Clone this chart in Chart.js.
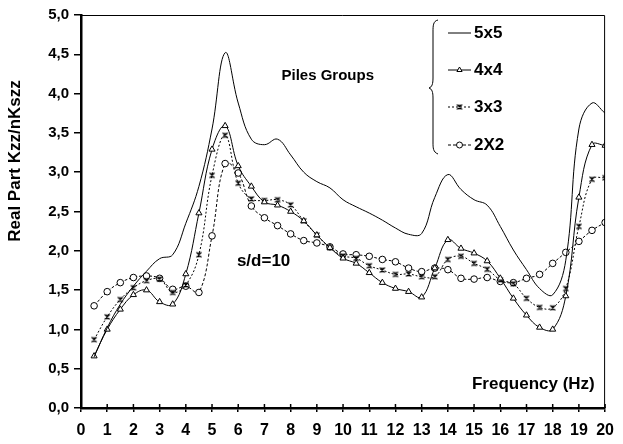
<!DOCTYPE html>
<html>
<head>
<meta charset="utf-8">
<script src="https://cdn.jsdelivr.net/npm/chart.js@4.4.1/dist/chart.umd.min.js"></script>
<style>
html, body { margin: 0; padding: 0; background: #fff; }
#wrap { width: 623px; height: 444px; position: relative; }
</style>
</head>
<body>
<div id="wrap"><canvas id="chart"></canvas></div>
<script>
const FONT = "'Liberation Sans', Arial, sans-serif";

// frequency in Hz
const freq = [0.5, 1, 1.5, 2, 2.5, 3, 3.5, 4, 4.5, 5, 5.5, 6, 6.5, 7, 7.5, 8, 8.5, 9, 9.5, 10,
              10.5, 11, 11.5, 12, 12.5, 13, 13.5, 14, 14.5, 15, 15.5, 16, 16.5, 17, 17.5, 18, 18.5, 19, 19.5, 20];

const group5x5 = [0.65, 1.02, 1.32, 1.55, 1.74, 1.90, 1.95, 2.35, 2.82, 3.55, 4.52, 3.88, 3.42, 3.35, 3.42, 3.22, 3.00, 2.88, 2.80, 2.65,
                  2.56, 2.48, 2.39, 2.29, 2.21, 2.22, 2.68, 2.97, 2.78, 2.65, 2.58, 2.31, 2.01, 1.76, 1.52, 1.44, 1.88, 3.55, 3.88, 3.75];
const group4x4 = [0.66, 1.00, 1.255, 1.44, 1.50, 1.35, 1.32, 1.705, 2.48, 3.29, 3.59, 3.08, 2.82, 2.62, 2.58, 2.50, 2.38, 2.20, 2.04, 1.905,
                  1.84, 1.72, 1.595, 1.52, 1.48, 1.41, 1.78, 2.14, 2.03, 1.97, 1.87, 1.65, 1.395, 1.18, 1.025, 1.00, 1.425, 2.68, 3.35, 3.34];
const group3x3 = [0.87, 1.16, 1.38, 1.53, 1.62, 1.64, 1.47, 1.565, 1.95, 2.96, 3.47, 2.86, 2.66, 2.64, 2.65, 2.585, 2.38, 2.20, 2.04, 1.935,
                  1.905, 1.81, 1.755, 1.70, 1.705, 1.67, 1.67, 1.89, 1.93, 1.84, 1.765, 1.63, 1.58, 1.395, 1.28, 1.275, 1.52, 2.31, 2.91, 2.93];
const group2x2 = [1.30, 1.48, 1.595, 1.66, 1.68, 1.65, 1.51, 1.55, 1.47, 2.19, 3.11, 2.99, 2.57, 2.42, 2.32, 2.215, 2.13, 2.10, 2.05, 1.96,
                  1.95, 1.93, 1.89, 1.86, 1.78, 1.735, 1.78, 1.76, 1.65, 1.64, 1.66, 1.61, 1.595, 1.65, 1.70, 1.84, 1.98, 2.12, 2.26, 2.36];

const seriesLabels = ["5x5", "4x4", "3x3", "2X2"];

// asterisk-like marker used for the 3x3 group
function starMarker() {
    const c = document.createElement("canvas");
    c.width = 8; c.height = 8;
    const g = c.getContext("2d");
    g.strokeStyle = "#000";
    g.lineWidth = 1.2;
    g.beginPath();
    g.moveTo(1.5, 1.5); g.lineTo(6.5, 6.5);
    g.moveTo(6.5, 1.5); g.lineTo(1.5, 6.5);
    g.moveTo(4, 1.5); g.lineTo(4, 6.5);
    g.stroke();
    return c;
}

function toPoints(values) {
    return freq.map((f, i) => ({ x: f, y: values[i] }));
}

const frame = {
    id: "frame",
    afterDatasetsDraw(chart) {
        const { ctx, chartArea: a, scales } = chart;
        ctx.save();
        ctx.strokeStyle = "#000";
        ctx.lineWidth = 1;
        ctx.beginPath();
        ctx.moveTo(a.left, a.top + 0.5);
        ctx.lineTo(a.right - 0.5, a.top + 0.5);
        ctx.lineTo(a.right - 0.5, a.bottom);
        ctx.stroke();

        // x tick marks cross the axis
        ctx.lineWidth = 1.5;
        scales.x.ticks.forEach(t => {
            const px = scales.x.getPixelForValue(t.value);
            ctx.beginPath();
            ctx.moveTo(px, a.bottom - 4);
            ctx.lineTo(px, a.bottom);
            ctx.stroke();
        });

        // texts
        ctx.fillStyle = "#000";
        ctx.textBaseline = "middle";
        ctx.textAlign = "left";
        ctx.font = "bold 15px " + FONT;
        ctx.fillText("Piles Groups", scales.x.getPixelForValue(7.65), scales.y.getPixelForValue(4.22));
        ctx.font = "bold 17px " + FONT;
        ctx.fillText("s/d=10", scales.x.getPixelForValue(5.95), scales.y.getPixelForValue(1.86));
        ctx.fillText("Frequency (Hz)", scales.x.getPixelForValue(14.92), scales.y.getPixelForValue(0.30));

        // y axis title
        ctx.save();
        ctx.translate(15, 161);
        ctx.rotate(-Math.PI / 2);
        ctx.textAlign = "center";
        ctx.font = "bold 17px " + FONT;
        ctx.fillText("Real Part Kzz/nKszz", 0, 0);
        ctx.restore();

        // legend with brace
        ctx.lineWidth = 1;
        ctx.beginPath();
        ctx.moveTo(438, 20);
        ctx.bezierCurveTo(433, 21, 433, 26, 433, 32);
        ctx.lineTo(433, 78);
        ctx.bezierCurveTo(433, 84, 432, 87, 429, 88);
        ctx.bezierCurveTo(432, 89, 433, 92, 433, 98);
        ctx.lineTo(433, 142);
        ctx.bezierCurveTo(433, 148, 433, 152, 438, 154);
        ctx.stroke();

        const rows = [33, 70, 107, 145];
        chart.data.datasets.forEach((ds, i) => {
            const y = rows[i];
            ctx.save();
            ctx.strokeStyle = "#000";
            ctx.lineWidth = ds.borderWidth;
            ctx.setLineDash(ds.borderDash || []);
            ctx.beginPath();
            ctx.moveTo(448, y);
            ctx.lineTo(471, y);
            ctx.stroke();
            ctx.setLineDash([]);
            if (ds.pointRadius > 0) {
                ctx.fillStyle = "#fff";
                ctx.lineWidth = 1;
                Chart.helpers.drawPoint(ctx, { pointStyle: ds.pointStyle, radius: 3, rotation: 0, borderWidth: 1 }, 459.5, y);
            }
            ctx.restore();
            ctx.fillStyle = "#000";
            ctx.font = "bold 17px " + FONT;
            ctx.fillText(ds.label, 474, y);
        });
        ctx.restore();
    }
};

function initializeChart() {
    const ctx = document.getElementById("chart").getContext("2d");
    new Chart(ctx, {
        type: "line",
        data: {
            datasets: [
                {
                    label: seriesLabels[0],
                    data: toPoints(group5x5),
                    borderColor: "#000",
                    borderWidth: 1,
                    pointRadius: 0,
                    tension: 0.4
                },
                {
                    label: seriesLabels[1],
                    data: toPoints(group4x4),
                    borderColor: "#000",
                    borderWidth: 1,
                    pointStyle: "triangle",
                    pointRadius: 3.5,
                    pointBackgroundColor: "#fff",
                    pointBorderColor: "#000",
                    pointBorderWidth: 1,
                    tension: 0.4
                },
                {
                    label: seriesLabels[2],
                    data: toPoints(group3x3),
                    borderColor: "#000",
                    borderWidth: 1,
                    borderDash: [2, 2],
                    pointStyle: starMarker(),
                    pointRadius: 4,
                    tension: 0.4
                },
                {
                    label: seriesLabels[3],
                    data: toPoints(group2x2),
                    borderColor: "#000",
                    borderWidth: 1,
                    borderDash: [3, 2],
                    pointStyle: "circle",
                    pointRadius: 3.3,
                    pointBackgroundColor: "#fff",
                    pointBorderColor: "#000",
                    pointBorderWidth: 1,
                    tension: 0.4
                }
            ]
        },
        options: {
            responsive: true,
            maintainAspectRatio: false,
            animation: false,
            layout: { padding: { top: 15, right: 9, left: 0, bottom: 0 } },
            plugins: {
                legend: { display: false },
                tooltip: { enabled: false }
            },
            scales: {
                x: {
                    type: "linear",
                    min: 0,
                    max: 20,
                    afterFit: s => { s.height = 36; },
                    ticks: {
                        stepSize: 1,
                        color: "#000",
                        padding: 9,
                        font: { family: FONT, size: 16, weight: "bold" }
                    },
                    grid: { drawOnChartArea: false, color: "#000", lineWidth: 1.5, tickLength: 4 },
                    border: { display: true, color: "#000", width: 2.5 }
                },
                y: {
                    min: 0,
                    max: 5,
                    afterFit: s => { s.width = 81; },
                    ticks: {
                        stepSize: 0.5,
                        color: "#000",
                        padding: 5,
                        font: { family: FONT, size: 15, weight: "bold" },
                        callback: v => v.toFixed(1).replace(".", ",")
                    },
                    grid: { drawOnChartArea: false, color: "#000", lineWidth: 1.5, tickLength: 7 },
                    border: { display: true, color: "#000", width: 2.5 }
                }
            }
        },
        plugins: [frame]
    });
}

window.onload = () => {
    initializeChart();
};
</script>
</body>
</html>
